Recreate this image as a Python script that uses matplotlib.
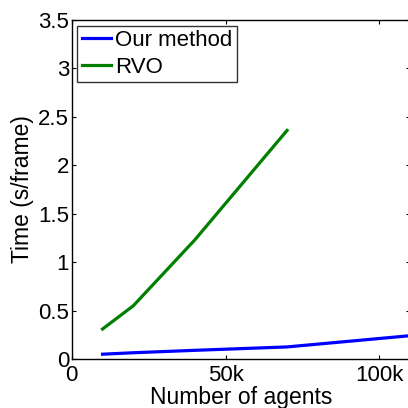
import numpy as np
import matplotlib.pyplot as plt

plt.rcParams['font.family'] = ['Liberation Sans', 'DejaVu Sans']

# data
agents_ours = [10000, 20000, 40000, 70000, 120000]
time_ours = [0.05, 0.065, 0.09, 0.125, 0.27]
agents_rvo = [10000, 20000, 40000, 70000]
time_rvo = [0.31, 0.55, 1.23, 2.36]

fig = plt.figure(figsize=(4.08, 4.08), dpi=100)
ax = fig.add_axes([0.176, 0.12, 0.829, 0.831])

ax.plot(agents_ours, time_ours, color="#0000ff", lw=2.3, label="Our method")
ax.plot(agents_rvo, time_rvo, color="#007f00", lw=2.3, label="RVO")

ax.set_xlim(0, 110000)
ax.set_ylim(0, 3.5)
ax.set_xticks([0, 50000, 100000])
ax.set_xticklabels(["0", "50k", "100k"])
ax.set_yticks(np.arange(0, 3.51, 0.5))
ax.set_yticklabels(["0", "0.5", "1", "1.5", "2", "2.5", "3", "3.5"])
ax.tick_params(direction="in", top=True, right=True, labelsize=16, length=3)
ax.tick_params(axis="x", pad=4)
ax.tick_params(axis="y", pad=2)
for s in ax.spines.values():
    s.set_linewidth(1.0)

ax.set_xlabel("Number of agents", fontsize=16.5, labelpad=0)
ax.set_ylabel("Time (s/frame)", fontsize=16.5, labelpad=3)

leg = ax.legend(loc="upper left", fontsize=16, frameon=True, fancybox=False,
                edgecolor="black", borderpad=0.2, handlelength=1.3,
                handletextpad=0.2, labelspacing=0.25, borderaxespad=0.25)
leg.get_frame().set_linewidth(1.0)

fig.savefig("out.png", dpi=100)
